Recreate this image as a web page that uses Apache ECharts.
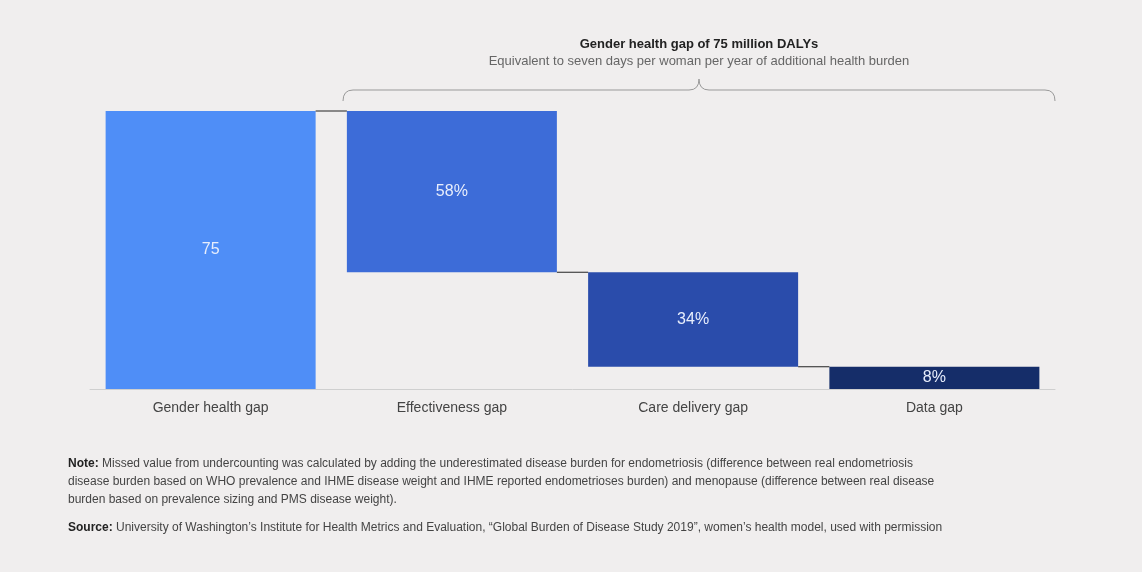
<!DOCTYPE html>
<html>
<head>
<meta charset="utf-8">
<script src="https://cdn.jsdelivr.net/npm/echarts@6/dist/echarts.min.js"></script>
<style>html,body{margin:0;padding:0;background:#f0eeee;}#main{width:1142px;height:572px;}</style>
</head>
<body>
<div id="main"></div>
<script>
// data
var categories = ['Gender health gap', 'Effectiveness gap', 'Care delivery gap', 'Data gap'];
var baseValues = [0, 31.5, 6, 0];
var barValues = [75, 43.5, 25.5, 6];
var barLabels = ['75', '58%', '34%', '8%'];
var barColors = ['#4f8ef7', '#3d6cd8', '#2a4cab', '#152d69'];
var connectors = [[0, 75], [1, 31.5], [2, 6]];

var braceStyle = { fill: null, stroke: '#999', lineWidth: 1 };
var myChart = echarts.init(document.getElementById('main'));
var option = {
    backgroundColor: '#f0eeee',
    animation: false,
    grid: { left: 90, right: 87, top: 111, bottom: 183 },
    xAxis: {
        type: 'category',
        data: categories,
        axisTick: { show: false },
        axisLine: { lineStyle: { color: '#cfcfcf', width: 1 } },
        axisLabel: { color: '#444', fontSize: 14, margin: 12, fontFamily: 'Liberation Sans' }
    },
    yAxis: { type: 'value', min: 0, max: 75, show: false },
    series: [
        {
            type: 'bar', stack: 'w', barWidth: 210,
            itemStyle: { color: 'transparent' },
            data: baseValues
        },
        {
            type: 'bar', stack: 'w', barWidth: 210,
            data: barValues.map(function (v, i) {
                return { value: v, itemStyle: { color: barColors[i] } };
            }),
            label: {
                show: true, position: 'inside', color: '#e8eefc', fontSize: 16,
                fontFamily: 'Liberation Sans',
                formatter: function (p) { return barLabels[p.dataIndex]; }
            }
        },
        {
            type: 'custom',
            data: connectors,
            renderItem: function (params, api) {
                var i = api.value(0), v = api.value(1);
                var p = api.coord([i, v]);
                var q = api.coord([i + 1, v]);
                return {
                    type: 'line',
                    shape: { x1: p[0] + 105, y1: p[1], x2: q[0] - 105, y2: q[1] },
                    style: { stroke: '#222', lineWidth: 1 }
                };
            },
            z: 5
        }
    ],
    graphic: [
        { type: 'text', style: { x: 699, y: 38, text: 'Gender health gap of 75 million DALYs', fill: '#222', font: 'bold 13px Liberation Sans', align: 'center' } },
        { type: 'text', style: { x: 699, y: 55, text: 'Equivalent to seven days per woman per year of additional health burden', fill: '#666', font: '13px Liberation Sans', align: 'center' } },
        { type: 'bezierCurve', shape: { x1: 343, y1: 101, cpx1: 343, cpy1: 90, x2: 353, y2: 90 }, style: braceStyle },
        { type: 'line', shape: { x1: 353, y1: 90, x2: 689, y2: 90 }, style: braceStyle },
        { type: 'bezierCurve', shape: { x1: 689, y1: 90, cpx1: 699, cpy1: 90, x2: 699, y2: 79 }, style: braceStyle },
        { type: 'bezierCurve', shape: { x1: 699, y1: 79, cpx1: 699, cpy1: 90, x2: 709, y2: 90 }, style: braceStyle },
        { type: 'line', shape: { x1: 709, y1: 90, x2: 1045, y2: 90 }, style: braceStyle },
        { type: 'bezierCurve', shape: { x1: 1045, y1: 90, cpx1: 1055, cpy1: 90, x2: 1055, y2: 101 }, style: braceStyle },
        { type: 'text', style: { x: 68, y: 455, text: '{b|Note:} Missed value from undercounting was calculated by adding the underestimated disease burden for endometriosis (difference between real endometriosis\ndisease burden based on WHO prevalence and IHME disease weight and IHME reported endometrioses burden) and menopause (difference between real disease\nburden based on prevalence sizing and PMS disease weight).', rich: { b: { font: 'bold 12px Liberation Sans', fill: '#222' } }, fill: '#444', font: '12px Liberation Sans', lineHeight: 18 } },
        { type: 'text', style: { x: 68, y: 522, text: '{b|Source:} University of Washington\u2019s Institute for Health Metrics and Evaluation, \u201cGlobal Burden of Disease Study 2019\u201d, women\u2019s health model, used with permission', rich: { b: { font: 'bold 12px Liberation Sans', fill: '#222' } }, fill: '#444', font: '12px Liberation Sans' } }
    ]
};
myChart.setOption(option);
</script>
</body>
</html>
